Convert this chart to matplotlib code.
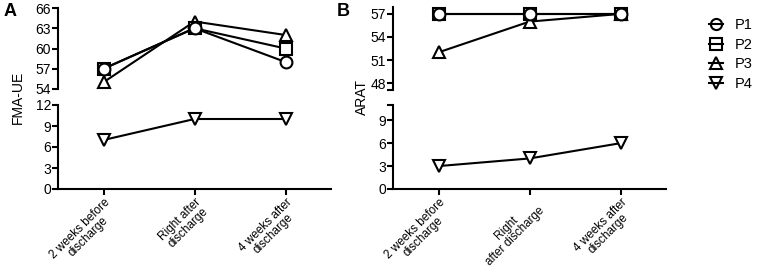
import matplotlib
matplotlib.use("Agg")
import matplotlib.pyplot as plt
from matplotlib.lines import Line2D

plt.rcParams['font.family'] = ['Liberation Sans', 'DejaVu Sans']

patients = ["P1", "P2", "P3", "P4"]
markers = ["o", "s", "^", "v"]
x = [0, 1, 2]

labels_a = ["2 weeks before\ndischarge", "Right after\ndischarge", "4 weeks after\ndischarge"]
labels_b = ["2 weeks before\ndischarge", "Right\nafter discharge", "4 weeks after\ndischarge"]

fma_p1 = [57, 63, 58]
fma_p2 = [57, 63, 60]
fma_p3 = [55, 64, 62]
fma_p4 = [7, 10, 10]

arat_p1 = [57, 57, 57]
arat_p2 = [57, 57, 57]
arat_p3 = [52, 56, 57]
arat_p4 = [3, 4, 6]

W, H = 758, 272
fig = plt.figure(figsize=(W / 100, H / 100), dpi=100)


def px_axes(x0, x1, y0, y1):
    # pixel box (top-left origin) -> figure axes
    return fig.add_axes([x0 / W, (H - y1) / H, (x1 - x0) / W, (y1 - y0) / H])


def style(ax, top):
    for s in ["top", "right"]:
        ax.spines[s].set_visible(False)
    ax.spines["left"].set_linewidth(1.5)
    ax.spines["bottom"].set_linewidth(1.5)
    ax.tick_params(direction="out", length=4, width=1.5, labelsize=10, pad=1)
    ax.set_xlim(-0.5, 2.5)
    if top:
        ax.spines["bottom"].set_visible(False)
        ax.tick_params(axis="x", bottom=False, labelbottom=False)


def draw(ax, series):
    # P1 ends up on top, like the original
    for i, (vals, m, name) in enumerate(zip(series, markers, patients)):
        ax.plot(x, vals, color="black", lw=1.5, marker=m, ms=8.5,
                mfc="white", mec="black", mew=1.5, label=name,
                clip_on=False, zorder=10 - i)


# panel A
a_top = px_axes(58, 331, 8, 89)
a_bot = px_axes(58, 331, 105, 189)
style(a_top, True)
style(a_bot, False)
draw(a_top, [fma_p1, fma_p2, fma_p3, fma_p4])
draw(a_bot, [fma_p1, fma_p2, fma_p3, fma_p4])
a_top.set_ylim(54, 66)
a_top.set_yticks([54, 57, 60, 63, 66])
a_bot.set_ylim(0, 12)
a_bot.set_yticks([0, 3, 6, 9, 12])
a_bot.set_xticks(x)
a_bot.set_xticklabels(labels_a, rotation=45, ha="right", rotation_mode="anchor",
                      ma="center", fontsize=8.5, linespacing=1.0)

# panel B
b_top = px_axes(393, 666, 7, 90)
b_bot = px_axes(393, 666, 105, 189)
style(b_top, True)
style(b_bot, False)
draw(b_top, [arat_p1, arat_p2, arat_p3, arat_p4])
draw(b_bot, [arat_p1, arat_p2, arat_p3, arat_p4])
b_top.set_ylim(47.1, 57.9)
b_top.set_yticks([48, 51, 54, 57])
b_top.set_yticks([47.1], minor=True)
b_top.tick_params(axis="y", which="minor", length=4, width=1.5)
b_bot.set_ylim(0, 11)
b_bot.set_yticks([0, 3, 6, 9])
b_bot.set_yticks([11], minor=True)
b_bot.tick_params(axis="y", which="minor", length=4, width=1.5)
b_bot.set_xticks(x)
b_bot.set_xticklabels(labels_b, rotation=45, ha="right", rotation_mode="anchor",
                      ma="center", fontsize=8.5, linespacing=1.0)

for ax in (a_bot, b_bot):
    ax.tick_params(axis="x", pad=1)

fig.text(18 / W, 1 - 97 / H, "FMA-UE", rotation=90, ha="center", va="center", fontsize=10)
fig.text(362 / W, 1 - 97 / H, "ARAT", rotation=90, ha="center", va="center", fontsize=10)
fig.text(4 / W, 1 - 3 / H, "A", fontsize=13, fontweight="bold", va="top")
fig.text(337 / W, 1 - 3 / H, "B", fontsize=13, fontweight="bold", va="top")

handles = [Line2D([], [], color="black", lw=1.5, marker=m, ms=8, mfc="none",
                  mec="black", mew=1.5) for m in markers]
fig.legend(handles, patients, loc="upper left", bbox_to_anchor=(703 / W, 1 - 12 / H),
           frameon=False, fontsize=10.5, handlelength=1.0, handletextpad=0.8,
           labelspacing=0.4, borderaxespad=0)

fig.savefig("out.png", dpi=100)
